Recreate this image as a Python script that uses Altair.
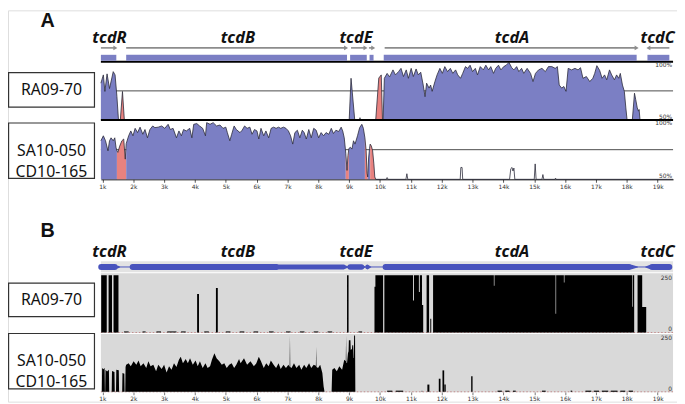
import altair as alt
import pandas as pd

# ---------------- data ----------------
gene_names = ["tcdR", "tcdB", "tcdE", "tcdA", "tcdC"]
gene_label_kb = [1.23, 5.39, 9.22, 14.28, 19.0]

# Panel A gene model (kb)
a_box_start = [0.95, 1.77, 9.03, 9.66, 10.12, 18.67]
a_box_end = [1.45, 8.93, 9.57, 9.79, 18.32, 19.38]
a_arrow_start = [0.95, 1.77, 9.06, 9.64, 10.15, 18.70]
a_arrow_end = [1.42, 8.90, 9.53, 9.78, 18.32, 19.38]
a_arrow_dir = ["right", "right", "right", "right", "right", "left"]

# Panel B gene model (trail points: gene, kb, width)
b_gene_id = ["R", "R", "R", "B", "B", "B", "B", "B", "E", "E", "E", "e", "e",
             "A", "A", "A", "C", "C", "C"]
b_gene_pos = [0.96, 1.40, 1.56, 1.98, 6.65, 6.70, 8.82, 8.97, 9.03, 9.40, 9.52,
              9.60, 9.70, 10.18, 18.08, 18.35, 18.61, 18.82, 19.38]
b_gene_w = [6, 6, 1, 6, 6, 5, 5, 1, 5.5, 5.5, 1, 5, 1, 6, 6, 1, 1, 6, 6]

# Panel A, RA09-70 % identity
pos_a1 = [0.95, 1.03, 1.08, 1.15, 1.23, 1.35, 1.41, 1.47, 1.52, 1.58, 1.65, 1.71,
          9.00, 9.06, 9.12, 9.18, 9.33, 9.35, 9.37,
          9.86, 9.96, 10.04, 10.08, 10.10, 10.14,
          10.23, 10.31, 10.42, 10.50, 10.60, 10.68, 10.76, 10.85, 10.92, 11.01,
          11.08, 11.17, 11.24, 11.32, 11.40, 11.46, 11.51, 11.59, 11.64, 11.69,
          11.78, 11.85, 11.94, 12.02, 12.10, 12.19, 12.28, 12.36, 12.45, 12.52,
          12.61, 12.68, 12.77, 12.84, 12.92, 13.00, 13.09, 13.16, 13.25, 13.35,
          13.43, 13.52, 13.59, 13.68, 13.75, 13.84, 13.92, 14.01, 14.09, 14.18,
          14.27, 14.34, 14.43, 14.50, 14.59, 14.66, 14.77, 14.88, 14.96, 15.04,
          15.14, 15.25, 15.36, 15.46, 15.57, 15.68, 15.75, 15.81, 15.89, 15.96,
          16.03, 16.10, 16.21, 16.32, 16.42, 16.50, 16.58, 16.69, 16.80, 16.90,
          16.96, 17.03, 17.12, 17.20, 17.28, 17.35, 17.44, 17.51, 17.60, 17.67,
          17.74, 17.79, 17.86, 17.92, 17.97, 18.01,
          18.18, 18.25, 18.29, 18.34, 18.38, 18.40, 18.43, 19.50]
val_a1 = [81.6, 88.7, 74.5, 89.6, 77, 91.5, 88.7, 70, 50, 50, 74.5, 50,
          50, 85.8, 68, 50, 50, 52, 50,
          50, 86, 88.7, 50, 50, 85.8,
          90, 87, 93, 88.7, 91.5, 94.3, 87.3, 93, 85.8, 94.3,
          87.3, 93.8, 88.7, 91, 80, 70, 81.6, 77.4, 80, 74.6,
          83, 88.7, 94.3, 90, 95.8, 91.5, 94.3, 90, 93, 88.7,
          85.8, 90, 95.8, 94.3, 97, 91.5, 94.3, 88.7, 95.8, 93,
          97, 93, 95.8, 90, 94.3, 97, 93, 95.8, 97, 99.4,
          94.9, 93, 95.8, 91.5, 94.3, 90, 94.3, 90, 83, 90,
          93, 94.3, 91.5, 95.8, 95.8, 94.3, 95.8, 80, 77.4, 78.8,
          74.6, 94.3, 93, 94.3, 93, 94.9, 85.8, 87.3, 83, 85.8,
          90, 96.6, 92.6, 85.8, 88.7, 84.5, 93, 88.7, 84.5, 88.7,
          85.8, 90, 80, 74.6, 60.4, 50,
          50, 73, 67.5, 60.4, 57.6, 59, 50, 50]
seg_a1_start = [0.95, 1.58, 9.00, 9.86, 10.10, 18.18]
seg_a1_end = [1.52, 1.71, 9.18, 10.08, 18.01, 18.43]
seg_a1_kind = ["exon", "cns", "exon", "cns", "exon", "exon"]

# Panel A, SA10-050 / CD10-165 % identity
pos_a2 = [0.95, 1.03, 1.10, 1.18, 1.23, 1.28, 1.35, 1.40, 1.44, 1.47,
          1.50, 1.56, 1.63, 1.69, 1.74, 1.77, 1.85, 1.92, 1.99, 2.06,
          2.14, 2.22, 2.31, 2.38, 2.46, 2.54, 2.63, 2.70, 2.81, 2.92,
          3.02, 3.13, 3.20, 3.29, 3.40, 3.48, 3.56, 3.63, 3.72, 3.83,
          3.90, 3.96, 4.06, 4.15, 4.25, 4.34, 4.38, 4.49, 4.59, 4.70,
          4.81, 4.91, 5.00, 5.05, 5.13, 5.19, 5.27, 5.34, 5.46, 5.53,
          5.61, 5.69, 5.78, 5.85, 5.93, 6.01, 6.07, 6.14, 6.23, 6.30,
          6.39, 6.47, 6.55, 6.63, 6.71, 6.78, 6.87, 6.95, 7.03, 7.10,
          7.17, 7.24, 7.32, 7.40, 7.48, 7.54, 7.61, 7.69, 7.77, 7.85,
          7.93, 8.01, 8.09, 8.17, 8.25, 8.34, 8.42, 8.49, 8.57, 8.66,
          8.74, 8.79, 8.84, 8.89, 8.93, 8.96, 8.99, 9.04, 9.09, 9.14,
          9.19, 9.27, 9.34, 9.41, 9.46, 9.51, 9.55, 9.58, 9.60, 9.63,
          9.66, 9.68, 9.72, 9.76, 9.80, 9.83, 9.86,
          10.20, 10.23, 10.26, 10.84, 10.87, 10.90,
          12.60, 12.62, 12.66, 12.68,
          14.20, 14.24, 14.28, 14.31, 14.34, 14.37,
          15.00, 15.03, 15.06, 15.25, 15.28, 15.31, 15.67, 15.69, 15.71, 19.50]
val_a2 = [82.5, 86.7, 82.5, 74, 82.5, 85, 82.5, 85, 77, 74,
          72.7, 78, 82.5, 84, 67, 80, 86.7, 90.8, 86.7, 93,
          89.4, 94, 88, 92, 85, 92, 95, 93.6, 94, 95,
          93, 96.4, 92, 93, 85, 90.8, 86.7, 92, 90.8, 93,
          85, 96.4, 97, 95, 93, 86.7, 97.8, 96.4, 97.8, 95,
          95.8, 93, 94, 89.4, 82.5, 88, 95, 92, 89.4, 91.4,
          95, 93, 94, 88, 92, 90.8, 84, 93, 86.7, 90.8,
          85, 93, 94, 93, 94, 93, 94, 93, 90.8, 86.7,
          79.7, 89.4, 91.4, 85, 91.4, 89.4, 84, 92, 85, 93,
          91.4, 85, 89.4, 86.7, 89.4, 88, 93, 88.6, 91.4, 90.3,
          94, 90.8, 85, 72, 57.5, 70, 76, 77, 75.5, 82.5,
          79.7, 86.7, 93.6, 96.4, 93, 85, 74, 55, 52, 68,
          76, 79.7, 78, 74, 63, 52, 50,
          50, 51.5, 50, 50, 54.7, 50,
          50, 60, 60, 50,
          50, 59, 60, 57, 59.5, 50,
          50, 63, 50, 50, 54, 50, 50, 51, 50, 50]
seg_a2_start = [0.95, 1.47, 1.77, 8.89, 8.99, 9.51, 9.60, 9.68]
seg_a2_end = [1.47, 1.77, 8.89, 8.99, 9.51, 9.60, 9.68, 9.86]
seg_a2_kind = ["exon", "cns", "exon", "cns", "exon", "cns", "exon", "cns"]

# Panel B, RA09-70 coverage (step profile, value holds from each position on)
pos_b1 = [0.95, 0.96, 1.14, 1.20, 1.31, 1.36, 1.52, 4.07, 4.13, 4.68, 4.74,
          8.93, 8.98, 9.82, 9.85, 10.10, 10.14, 11.07, 11.10, 11.26, 11.29,
          11.36, 11.40, 11.51, 11.59, 11.63, 11.66, 11.72, 13.69, 13.71,
          15.69, 15.71, 15.96, 15.98, 18.17, 18.19, 18.24, 18.35, 18.50, 18.63, 19.50]
cov_b1 = [0, 250, 0, 250, 0, 250, 0, 168, 0, 194, 0,
          250, 0, 200, 250, 0, 250, 139, 250, 177, 250,
          120, 0, 250, 0, 60, 0, 250, 204, 250,
          82, 250, 218, 250, 112, 250, 0, 250, 111, 0, 0]
# low-coverage dashes
b1_dash_start = [1.70, 2.30, 2.75, 3.10, 3.55, 4.30, 5.00, 5.45, 5.90, 6.40, 6.95, 7.40, 7.85, 8.30, 9.30]
b1_dash_end = [1.85, 2.40, 2.90, 3.40, 3.70, 4.45, 5.15, 5.60, 6.05, 6.55, 7.10, 7.55, 8.00, 8.45, 9.42]
b1_dash_cov = [5] * 15

# Panel B, SA10-050 / CD10-165 coverage
pos_b2 = [0.95, 0.98, 0.99, 1.03, 1.07, 1.08, 1.09, 1.10, 1.15, 1.21, 1.22, 1.30, 1.31,
          1.39, 1.40, 1.44, 1.45, 1.53, 1.54, 1.64, 1.65, 1.71, 1.72, 1.74, 1.75,
          1.77, 1.85, 1.92, 2.01, 2.10, 2.17, 2.24, 2.33, 2.42, 2.49, 2.56, 2.65,
          2.74, 2.81, 2.92, 3.00, 3.08, 3.16, 3.24, 3.32, 3.40, 3.48, 3.54, 3.61,
          3.70, 3.77, 3.84, 3.93, 4.02, 4.09, 4.16, 4.25, 4.34, 4.41, 4.49, 4.55,
          4.63, 4.70, 4.79, 4.87, 4.95, 5.03, 5.11, 5.19, 5.27, 5.34, 5.43, 5.48,
          5.59, 5.69, 5.80, 5.91, 5.99, 6.07, 6.14, 6.23, 6.31, 6.39, 6.46, 6.55,
          6.63, 6.71, 6.78, 6.87, 6.95, 7.03, 7.07, 7.08, 7.09, 7.13, 7.21, 7.29,
          7.38, 7.45, 7.54, 7.61, 7.70, 7.77, 7.85, 7.92, 7.93, 7.94, 7.99, 8.06,
          8.13, 8.17, 8.20, 8.43, 8.45, 8.52, 8.60, 8.68, 8.77, 8.84, 8.89, 8.90,
          8.91, 8.93, 8.96, 8.98, 8.99, 9.04, 9.05, 9.09, 9.10, 9.13, 9.14, 9.15,
          9.16, 9.19, 9.20, 19.50]
cov_b2 = [0, 0, 105, 100, 105, 0, 0, 98, 90, 98, 0, 0, 92,
          88, 0, 0, 98, 95, 0, 0, 83, 80, 0, 0, 110,
          120, 127, 113, 135, 120, 139, 113, 127, 105, 135, 113, 120,
          91, 120, 101, 120, 86, 113, 98, 127, 110, 142, 156, 127,
          145, 127, 149, 120, 139, 113, 135, 105, 127, 105, 113, 142,
          171, 149, 135, 120, 127, 105, 120, 127, 105, 120, 145, 127,
          149, 120, 135, 113, 127, 156, 135, 105, 127, 113, 139, 120,
          105, 127, 101, 120, 105, 120, 110, 250, 110, 105, 127, 105,
          120, 98, 120, 105, 127, 105, 120, 115, 200, 110, 105, 120,
          83, 25, 0, 0, 98, 105, 91, 113, 98, 142, 135, 250,
          130, 127, 171, 180, 229, 229, 185, 190, 207, 207, 150, 150,
          250, 250, 0, 0]
b2_bar_start = [10.23, 10.51, 11.35, 11.535, 11.905, 12.025, 12.085, 12.955, 13.81, 14.06,
                14.31, 15.25, 16.18, 16.66, 16.93, 17.19, 17.48, 17.79, 18.06]
b2_bar_end = [10.40, 10.75, 11.37, 11.60, 11.96, 12.08, 12.13, 13.00, 13.95, 14.20,
              14.40, 15.37, 16.23, 16.85, 17.10, 17.40, 17.70, 17.95, 18.20]
b2_bar_cov = [5, 5, 5, 32, 58, 95, 32, 69, 5, 5, 5, 5, 5, 5, 5, 5, 5, 5, 5]

axis_ticks_kb = list(range(1, 20))

# ---------------- styling / layout ----------------
BLUE_A = "#7b7fc4"
PINK = "#e8827f"
BLUE_B = "#4853bd"
ROW_BG = "#d9d9d9"
TRACK_BG = "#e3e3e3"
FONT = "Noto Sans"

XS = alt.Scale(domain=[0.95, 19.5], range=[94, 673], nice=False, zero=False)
YA1 = alt.Scale(domain=[50, 100], range=[111, 52], nice=False, zero=False)
YA2 = alt.Scale(domain=[50, 100], range=[171, 111], nice=False, zero=False)
YB1 = alt.Scale(domain=[0, 250], range=[326, 268], nice=False, clamp=True)
YB2 = alt.Scale(domain=[0, 250], range=[386, 329], nice=False, clamp=True)

one = pd.DataFrame({"k": [0]})
span = pd.DataFrame({"x1": [0.95], "x2": [19.5]})


def X(field="pos", axis=None):
    return alt.X(f"{field}:Q", scale=XS, axis=axis)


def fill_table(pos, val, starts, ends, kinds, tag, base):
    rows = []
    for i, (s, e, k) in enumerate(zip(starts, ends, kinds)):
        for p, v in zip(pos, val):
            if s - 1e-9 <= p <= e + 1e-9:
                rows.append({"pos": p, "val": v, "seg": f"{tag}{i}", "kind": k, "base": base})
    return pd.DataFrame(rows)


layers = []

# ----- Panel B backgrounds -----
layers.append(alt.Chart(span).mark_rect(color=TRACK_BG).encode(
    x=X("x1"), x2="x2", y=alt.value(254), y2=alt.value(265)))
layers.append(alt.Chart(span).mark_rect(color=ROW_BG).encode(
    x=X("x1"), x2="x2", y=alt.value(266), y2=alt.value(326.5)))
layers.append(alt.Chart(span).mark_rect(color=ROW_BG).encode(
    x=X("x1"), x2="x2", y=alt.value(327.5), y2=alt.value(386.5)))

# ----- Panel A rows -----
for ys in (YA1, YA2):
    layers.append(alt.Chart(pd.DataFrame({"x1": [0.95], "x2": [19.5], "y": [75]}))
                  .mark_rule(color="#4a4a4a", strokeWidth=1)
                  .encode(x=X("x1"), x2="x2", y=alt.Y("y:Q", scale=ys, axis=None)))

color_scale = alt.Scale(domain=["exon", "cns"], range=[BLUE_A, PINK])
for pos, val, ss, ee, kk, tag, ys in [
    (pos_a1, val_a1, seg_a1_start, seg_a1_end, seg_a1_kind, "a", YA1),
    (pos_a2, val_a2, seg_a2_start, seg_a2_end, seg_a2_kind, "b", YA2),
]:
    df = fill_table(pos, val, ss, ee, kk, tag, 50)
    layers.append(alt.Chart(df).mark_area(interpolate="linear").encode(
        x=X(), y=alt.Y("val:Q", scale=ys, axis=None), y2="base:Q",
        color=alt.Color("kind:N", scale=color_scale, legend=None),
        detail="seg:N"))

layers.append(alt.Chart(pd.DataFrame({"pos": pos_a1, "val": val_a1})).mark_line(
    color="#2b2b3a", strokeWidth=0.8).encode(x=X(), y=alt.Y("val:Q", scale=YA1, axis=None)))
layers.append(alt.Chart(pd.DataFrame({"pos": pos_a2, "val": val_a2})).mark_line(
    color="#2b2b3a", strokeWidth=0.8).encode(
    x=X(axis=alt.Axis(orient="bottom", offset=-225, values=axis_ticks_kb,
                      labelExpr="datum.value + 'k'", labelFont="DejaVu Sans",
                      labelFontSize=6, labelColor="#333", labelPadding=1,
                      tickSize=3, tickColor="#555", domainColor="#000",
                      domainWidth=1, grid=False, title=None, labelFlush=False)),
    y=alt.Y("val:Q", scale=YA2, axis=None)))

# row frame lines in panel A
for yv, ys in [(100, YA1), (50, YA1)]:
    layers.append(alt.Chart(pd.DataFrame({"x1": [0.95], "x2": [19.5], "y": [yv]}))
                  .mark_rule(color="#000", strokeWidth=2)
                  .encode(x=X("x1"), x2="x2", y=alt.Y("y:Q", scale=ys, axis=None)))

# panel A gene model
layers.append(alt.Chart(pd.DataFrame({"s": a_box_start, "e": a_box_end})).mark_rect(
    color=BLUE_A).encode(x=X("s"), x2="e", y=alt.value(45), y2=alt.value(51)))
arrows = pd.DataFrame({"s": a_arrow_start, "e": a_arrow_end, "d": a_arrow_dir})
arrows["tip"] = [e if d == "right" else s for s, e, d in zip(a_arrow_start, a_arrow_end, a_arrow_dir)]
layers.append(alt.Chart(arrows).mark_rule(color="#8c8c8c", strokeWidth=1.6).encode(
    x=X("s"), x2="e", y=alt.value(38)))
layers.append(alt.Chart(arrows).mark_point(filled=True, color="#8c8c8c", size=22, opacity=1).encode(
    x=X("tip"), y=alt.value(38),
    shape=alt.Shape("d:N", scale=alt.Scale(domain=["right", "left"],
                                           range=["triangle-right", "triangle-left"]), legend=None)))

# ----- Panel B gene model -----
layers.append(alt.Chart(pd.DataFrame({"x1": [0.96], "x2": [19.38]})).mark_rule(
    color=BLUE_B, strokeWidth=1).encode(x=X("x1"), x2="x2", y=alt.value(259.7)))
layers.append(alt.Chart(pd.DataFrame({"g": b_gene_id, "pos": b_gene_pos, "w": b_gene_w}))
              .mark_trail(color=BLUE_B).encode(
    x=X(), y=alt.value(259.7), size=alt.Size("w:Q", scale=None, legend=None), detail="g:N"))

# ----- Panel B rows -----
for ys in (YB1, YB2):
    layers.append(alt.Chart(pd.DataFrame({"x1": [0.95], "x2": [19.5], "y": [0]}))
                  .mark_rule(color="#c48c8c", strokeWidth=1, strokeDash=[1.5, 2])
                  .encode(x=X("x1"), x2="x2", y=alt.Y("y:Q", scale=ys, axis=None)))

layers.append(alt.Chart(pd.DataFrame({"pos": pos_b1, "cov": cov_b1, "base": 0}))
              .mark_area(color="black", interpolate="step-after").encode(
    x=X(), y=alt.Y("cov:Q", scale=YB1, axis=None), y2="base:Q"))
layers.append(alt.Chart(pd.DataFrame({"s": b1_dash_start, "e": b1_dash_end, "cov": b1_dash_cov, "base": 0}))
              .mark_rect(color="#222").encode(
    x=X("s"), x2="e", y=alt.Y("cov:Q", scale=YB1, axis=None), y2="base:Q"))
layers.append(alt.Chart(pd.DataFrame({"pos": pos_b2, "cov": cov_b2, "base": 0}))
              .mark_area(color="black", interpolate="linear").encode(
    x=X(axis=alt.Axis(orient="bottom", offset=-10, values=axis_ticks_kb,
                      labelExpr="datum.value + 'k'", labelFont="DejaVu Sans",
                      labelFontSize=6, labelColor="#333", labelPadding=1,
                      tickSize=3, tickColor="#777", domain=False,
                      grid=False, title=None, labelFlush=False)),
    y=alt.Y("cov:Q", scale=YB2, axis=None), y2="base:Q"))
layers.append(alt.Chart(pd.DataFrame({"s": b2_bar_start, "e": b2_bar_end, "cov": b2_bar_cov, "base": 0}))
              .mark_rect(color="black").encode(
    x=X("s"), x2="e", y=alt.Y("cov:Q", scale=YB2, axis=None), y2="base:Q"))

# ----- right-hand scale labels -----
def right_label(txt, v, ys, baseline):
    return alt.Chart(pd.DataFrame({"v": [v], "t": [txt]})).mark_text(
        align="right", baseline=baseline, fontSize=6, font="DejaVu Sans", color="#333"
    ).encode(x=alt.value(672), y=alt.Y("v:Q", scale=ys, axis=None), text="t:N")

layers += [right_label("100%", 100, YA1, "top"), right_label("50%", 50, YA1, "bottom"),
           right_label("100%", 100, YA2, "top"), right_label("50%", 50, YA2, "bottom"),
           right_label("250", 250, YB1, "top"), right_label("0", 0, YB1, "bottom"),
           right_label("250", 250, YB2, "top"), right_label("0", 0, YB2, "bottom")]

# ----- gene names -----
names = pd.DataFrame({"pos": gene_label_kb, "name": gene_names})
for ybase in (33.5, 250):
    layers.append(alt.Chart(names).mark_text(
        font=FONT, fontSize=16.5, fontWeight="bold", fontStyle="italic",
        baseline="alphabetic", align="center", color="#111").encode(
        x=X(), y=alt.value(ybase), text="name:N"))

# ----- panel letters -----
for letter, yb in (("A", 17), ("B", 229)):
    layers.append(alt.Chart(pd.DataFrame({"t": [letter]})).mark_text(
        font="Liberation Sans", fontSize=20, fontWeight="bold", baseline="alphabetic",
        align="center", color="#111").encode(x=alt.value(40), y=alt.value(yb), text="t:N"))

# ----- sample label boxes -----
boxes = [
    (63, 98, ["RA09-70"]),
    (114, 170, ["SA10-050", "CD10-165"]),
    (276, 310, ["RA09-70"]),
    (327, 383, ["SA10-050", "CD10-165"]),
]
for y1, y2, lines in boxes:
    layers.append(alt.Chart(one).mark_rect(fill="white", stroke="#333", strokeWidth=1.2).encode(
        x=alt.value(0.6), x2=alt.value(87.5), y=alt.value(y1), y2=alt.value(y2)))
    layers.append(alt.Chart(pd.DataFrame({"t": [lines]})).mark_text(
        font=FONT, fontSize=16, color="#111", baseline="middle", align="center",
        lineHeight=21.5, text=lines).encode(x=alt.value(44), y=alt.value((y1 + y2) / 2)))

chart = alt.layer(*layers).resolve_scale(x="independent", y="independent").properties(
    width=677, height=396, padding=0,
    autosize=alt.AutoSizeParams(type="none"),
).configure_view(strokeWidth=0).configure(background="white")

chart.save("out.html", embed_options={"renderer": "svg", "actions": False})
